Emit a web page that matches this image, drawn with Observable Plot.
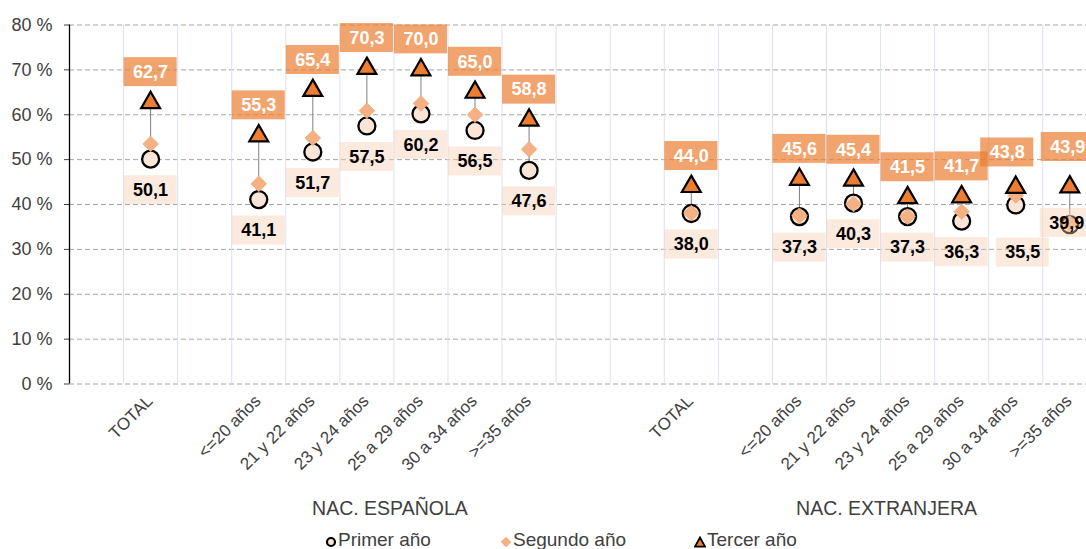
<!DOCTYPE html>
<html><head><meta charset="utf-8">
<script src="https://cdn.jsdelivr.net/npm/d3@7"></script>
<script src="https://cdn.jsdelivr.net/npm/@observablehq/plot@0.6"></script>
<style>
html,body{margin:0;padding:0;background:#fff;overflow:hidden;width:1086px;height:549px;}
#chart{position:relative;width:1086px;height:549px;}
#chart svg{overflow:hidden;display:block;}
.lg{position:absolute;font:19px "Liberation Sans",Arial,sans-serif;color:#404040;line-height:22px;white-space:nowrap;}
.mk{position:absolute;}
</style></head><body><div id="chart"></div><script>
const groups = ["NAC. ESPAÑOLA", "NAC. EXTRANJERA"];
const categories = ["TOTAL", "<=20 años", "21 y 22 años", "23 y 24 años", "25 a 29 años", "30 a 34 años", ">=35 años"];
const series = ["Primer año", "Segundo año", "Tercer año"];
const primerEsp  = [50.1, 41.1, 51.7, 57.5, 60.2, 56.5, 47.6];
const segundoEsp = [53.5, 44.6, 54.8, 60.9, 62.5, 60.0, 52.3];
const tercerEsp  = [62.7, 55.3, 65.4, 70.3, 70.0, 65.0, 58.8];
const primerExt  = [38.0, 37.3, 40.3, 37.3, 36.3, 39.9, 35.5];
const segundoExt = [38.1, 37.5, 40.1, 37.3, 38.4, 42.0, 35.8];
const tercerExt  = [44.0, 45.6, 45.4, 41.5, 41.7, 43.8, 43.9];
// first-year data labels as they are placed in the original
const primerLabelsEsp = [50.1, 41.1, 51.7, 57.5, 60.2, 56.5, 47.6];
const primerLabelsExt = [38.0, 37.3, 40.3, 37.3, 36.3, 35.5, 39.9];

const font = '"Liberation Sans", Arial, sans-serif';
const x0 = 69, step = 54.07;

// category slots: blank, TOTAL, blank, ages..., blank  (per group)
const slots = [];
groups.forEach((g, gi) => {
  slots.push({key: `${gi}|b0`, label: ""});
  slots.push({key: `${gi}|${categories[0]}`, label: categories[0]});
  slots.push({key: `${gi}|b1`, label: ""});
  categories.slice(1).forEach(c => slots.push({key: `${gi}|${c}`, label: c}));
  slots.push({key: `${gi}|b2`, label: ""});
});

const rows = [];
[[primerEsp, segundoEsp, tercerEsp, primerLabelsEsp], [primerExt, segundoExt, tercerExt, primerLabelsExt]]
  .forEach(([p, s, t, pl], gi) => categories.forEach((c, i) => rows.push({
    key: `${gi}|${c}`, primer: p[i], segundo: s[i], tercer: t[i], primerLabel: pl[i]
  })));

const fmt = v => d3.format(".1f")(v).replace(".", ",");

const nudges = {
  "1|30 a 34 años|primerLabel": [7, -3],
  "1|>=35 años|primerLabel": [-3, -13],
  "1|30 a 34 años|tercer": [-8.5, -4.5],
  "1|>=35 años|tercer": [-2, -9.5]
};

function labelMarks(field, baseDy, boxFill, boxOpacity, textFill) {
  const marks = [];
  const buckets = d3.group(rows, r => nudges[`${r.key}|${field}`] ? r.key : "default");
  for (const [k, data] of buckets) {
    const [ndx, ndy] = k === "default" ? [0, 0] : nudges[`${k}|${field}`];
    marks.push(Plot.barY(data, {x: "key", y1: field, y2: field, insetTop: -14.5, insetBottom: -14.5,
      insetLeft: 0.5, insetRight: 0.5, dx: ndx, dy: baseDy + ndy, fill: boxFill, fillOpacity: boxOpacity}));
    marks.push(Plot.text(data, {x: "key", y: field, text: d => fmt(d[field]), dx: ndx, dy: baseDy + ndy,
      fill: textFill, fontWeight: "bold", fontSize: 18}));
  }
  return marks;
}

const chart = Plot.plot({
  width: 1086, height: 549,
  marginLeft: x0, marginRight: 0, marginTop: 24.5, marginBottom: 165.5,
  x: {type: "band", domain: slots.map(s => s.key), range: [x0, x0 + step * slots.length], padding: 0, round: false, axis: null},
  y: {domain: [0, 80], ticks: 8, tickFormat: d => `${d} %`, tickSize: 5, tickPadding: 12, label: null},
  style: {fontFamily: font, fontSize: "18px", color: "#404040", background: "white", overflow: "hidden"},
  marks: [
    Plot.ruleY(d3.range(0, 81, 10), {stroke: "#A6A6A6", strokeDasharray: "5,3"}),
    Plot.ruleX(slots.slice(1), {x: "key", dx: -step / 2, y1: 0, y2: 80, stroke: "#DAE3F3"}),
    Plot.ruleX(slots.slice(0, 1), {x: "key", dx: -step / 2, y1: 0, y2: 80, stroke: "black", strokeWidth: 1.3}),
    Plot.ruleX(rows, {x: "key", y1: d => Math.min(d.primer, d.segundo, d.tercer), y2: d => Math.max(d.primer, d.segundo, d.tercer), stroke: "#7F7F7F"}),
    Plot.dot(rows, {x: "key", y: "primer", r: 8.5, fill: "#FBE5D6", stroke: "black", strokeWidth: 2.3}),
    Plot.dot(rows, {x: "key", y: "segundo", symbol: "diamond2", r: 7, fill: "#F4B183", stroke: "#EFA877", strokeWidth: 0.8}),
    Plot.dot(rows, {x: "key", y: "tercer", symbol: "triangle", r: 7, fill: "#ED7D31", stroke: "black", strokeWidth: 2.2}),
    ...labelMarks("primerLabel", 31, "#F8CBAD", 0.4, "#000000"),
    ...labelMarks("tercer", -30.5, "#ED7D31", 0.7, "#FFFFFF"),
    Plot.text(slots.filter(s => s.label), {x: "key", text: "label", frameAnchor: "bottom", rotate: -45, textAnchor: "end", dx: 3, dy: 18, fontSize: 17, fill: "#404040"}),
    Plot.text([groups[0]], {x: () => "0|25 a 29 años", text: d => d, frameAnchor: "bottom", dx: -step / 2 - 4, dy: 130.5, fontSize: 19.5, fill: "#404040"}),
    Plot.text([groups[1]], {x: () => "1|23 y 24 años", text: d => d, frameAnchor: "bottom", dx: -step / 2 + 6, dy: 130.5, fontSize: 19.5, fill: "#404040"})
  ]
});
const root = document.getElementById("chart");
root.appendChild(chart);

// legend
const legendItems = [
  {name: series[0], mx: 331, sym: '<circle cx="6" cy="6" r="4" fill="#FBE5D6" stroke="black" stroke-width="2.2"/>'},
  {name: series[1], mx: 506, sym: '<path d="M6,1.2L10.8,6L6,10.8L1.2,6Z" fill="#F4B183" stroke="#EFA877" stroke-width="0.8"/>'},
  {name: series[2], mx: 700, sym: '<path d="M6,1.5L11,10.6L1,10.6Z" fill="#ED7D31" stroke="black" stroke-width="1.8"/>'}
];
for (const it of legendItems) {
  const m = document.createElement("div");
  m.className = "mk";
  m.style.left = (it.mx - 6) + "px";
  m.style.top = (542 - 6) + "px";
  m.innerHTML = `<svg width="12" height="12" viewBox="0 0 12 12">${it.sym}</svg>`;
  root.appendChild(m);
  const t = document.createElement("div");
  t.className = "lg";
  t.style.left = (it.mx + 7) + "px";
  t.style.top = "529px";
  t.textContent = it.name;
  root.appendChild(t);
}
</script></body></html>
